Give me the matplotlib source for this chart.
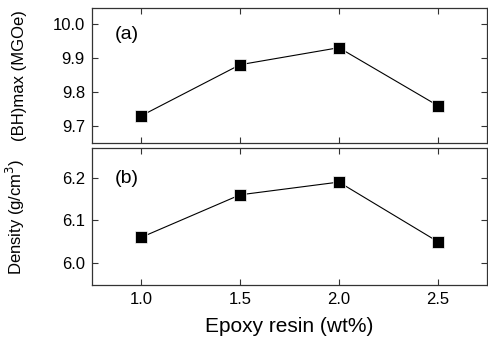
import matplotlib
matplotlib.use("Agg")
import matplotlib.pyplot as plt

plt.rcParams["font.family"] = ["Liberation Sans", "DejaVu Sans"]

epoxy = [1.0, 1.5, 2.0, 2.5]
bhmax = [9.73, 9.88, 9.93, 9.76]
density = [6.06, 6.16, 6.19, 6.05]

fig = plt.figure(figsize=(4.89, 3.42), dpi=100)
ax1 = fig.add_axes([0.188, 0.582, 0.808, 0.395])
ax2 = fig.add_axes([0.188, 0.167, 0.808, 0.4])

for ax, y in ((ax1, bhmax), (ax2, density)):
    ax.plot(epoxy, y, color="black", lw=0.8, marker="s", ms=8,
            mfc="black", mec="white", mew=0.5)
    ax.set_xlim(0.75, 2.75)
    ax.set_xticks([1.0, 1.5, 2.0, 2.5])
    ax.tick_params(direction="in", top=True, right=True, length=4,
                   width=0.8, labelsize=12, color="#333333", pad=5)
    for s in ax.spines.values():
        s.set_color("#333333")
        s.set_linewidth(0.9)
    ax.yaxis.set_label_coords(-0.165, 0.5)

ax1.set_ylim(9.65, 10.047)
ax1.set_yticks([9.7, 9.8, 9.9, 10.0])
ax1.tick_params(labelbottom=False)
ax1.set_ylabel("(BH)max (MGOe)", fontsize=12)
ax1.text(0.058, 0.8, "(a)", transform=ax1.transAxes, fontsize=14,
         va="center")

ax2.set_ylim(5.948, 6.27)
ax2.set_yticks([6.0, 6.1, 6.2])
ax2.set_xticklabels(["1.0", "1.5", "2.0", "2.5"])
ax2.set_ylabel("Density (g/cm$^3$)", fontsize=12)
ax2.set_xlabel("Epoxy resin (wt%)", fontsize=15, labelpad=7)
ax2.text(0.058, 0.78, "(b)", transform=ax2.transAxes, fontsize=14,
         va="center")

fig.savefig("out.png", dpi=100)
